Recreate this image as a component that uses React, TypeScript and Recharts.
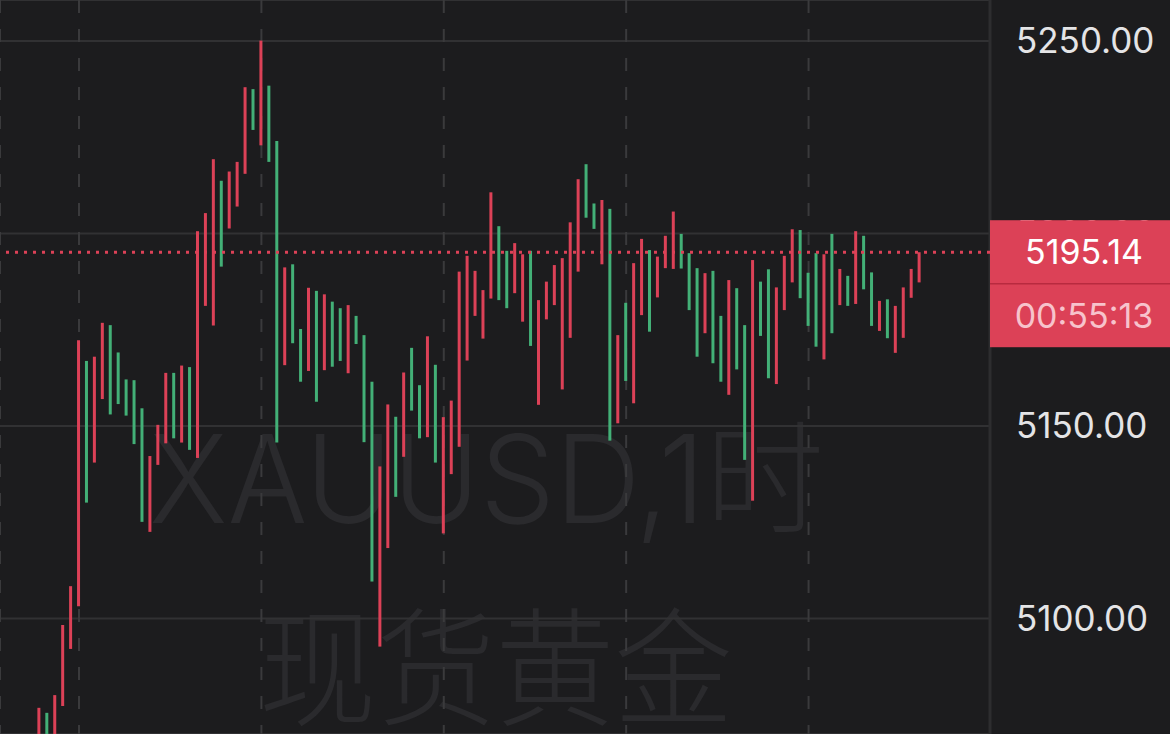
import React from 'react';
import { ComposedChart, Bar, Cell, XAxis, YAxis, CartesianGrid, ReferenceLine } from 'recharts';

// XAUUSD 1h bars, left to right (high / low)
const HIGHS = [
  5076.8, 5075.5, 5080.1, 5098.3, 5108.4, 5172.3, 5166.9, 5168.0, 5176.8, 5176.2,
  5169.1, 5162.1, 5161.9, 5154.6, 5142.2, 5150.3, 5163.8, 5163.8, 5165.7, 5165.3,
  5200.6, 5205.3, 5219.3, 5213.7, 5216.1, 5218.6, 5238.0, 5237.5, 5250.1, 5238.4,
  5224.0, 5191.2, 5192.0, 5175.2, 5185.9, 5185.1, 5184.2, 5182.3, 5180.6, 5181.4,
  5178.6, 5173.6, 5161.5, 5139.5, 5155.6, 5152.4, 5163.9, 5170.3, 5160.6, 5173.3,
  5165.9, 5152.3, 5156.6, 5190.1, 5194.2, 5190.3, 5185.3, 5210.7, 5201.9, 5195.5,
  5197.5, 5194.6, 5195.5, 5182.7, 5187.5, 5191.8, 5193.6, 5202.9, 5214.1, 5218.0,
  5207.8, 5208.7, 5206.4, 5173.6, 5182.0, 5192.3, 5198.6, 5195.7, 5194.0, 5199.4,
  5205.7, 5199.9, 5194.9, 5191.0, 5189.7, 5190.3, 5178.6, 5187.9, 5185.8, 5176.2,
  5193.1, 5187.5, 5190.7, 5186.0, 5194.2, 5201.1, 5200.9, 5189.8, 5194.9, 5194.6,
  5199.9, 5190.8, 5189.0, 5200.6, 5199.4, 5189.9, 5182.5, 5182.9, 5181.2, 5186.0,
  5190.8, 5195.14,
];

const LOWS = [
  5055.0, 5055.0, 5060.0, 5077.3, 5092.1, 5103.2, 5130.1, 5140.5, 5157.0, 5153.0,
  5155.7, 5152.7, 5145.3, 5125.1, 5122.5, 5139.9, 5145.5, 5146.8, 5145.7, 5143.8,
  5141.7, 5181.2, 5176.1, 5191.4, 5201.3, 5207.0, 5215.5, 5226.9, 5222.9, 5218.6,
  5145.7, 5165.8, 5171.5, 5161.5, 5164.3, 5156.3, 5164.5, 5165.4, 5166.9, 5163.7,
  5171.3, 5145.8, 5109.6, 5092.7, 5118.3, 5131.6, 5142.0, 5154.0, 5146.8, 5147.1,
  5140.5, 5122.1, 5137.5, 5144.6, 5167.0, 5178.6, 5172.7, 5183.1, 5182.7, 5180.6,
  5184.5, 5177.1, 5170.8, 5155.5, 5177.7, 5181.4, 5159.5, 5172.9, 5190.1, 5204.1,
  5201.2, 5192.0, 5146.2, 5150.7, 5161.7, 5155.9, 5178.8, 5174.5, 5183.4, 5191.0,
  5190.8, 5190.9, 5180.1, 5168.0, 5174.1, 5166.3, 5161.5, 5158.1, 5164.7, 5141.2,
  5130.6, 5173.4, 5162.4, 5160.9, 5180.1, 5187.3, 5183.2, 5176.0, 5170.6, 5167.3,
  5174.1, 5181.4, 5181.2, 5181.7, 5185.5, 5176.0, 5174.7, 5172.8, 5169.0, 5172.9,
  5183.3, 5187.3,
];

// r = rising (red), g = falling (green)
const SIDES = (
  'rgrrrrgrrg' + 'ggggrrrgrg' + 'rrrgrrrgrg' + 'grggrgrggr' + 'gggrrgrggr' +
  'grrrrrrrgg' + 'rrgrrrrrrg' + 'grgrgrrgrr' + 'rgggrggrgg' + 'rggrrrgggr' +
  'grgrggrgrrrr'
).split('');

const PRICE_TICKS = [5100, 5150, 5200, 5250];
const SESSION_TICKS = [5, 28, 51, 74, 97]; // bars sitting on the dashed separators
const LAST_PRICE = 5195.14;
const COUNTDOWN = '00:55:13';
const SYMBOL = 'XAUUSD,1时';
const NAME = '现货黄金';

const BG = '#1c1c1e';
const UP = '#dc4157';
const DOWN = '#43b077';
const FONT = 'Inter, "Liberation Sans", "Noto Sans CJK SC", sans-serif';
const X_DOMAIN = [-4.962, 119.88];
const Y_DOMAIN = [5070, 5260.65];

const data = HIGHS.map((h, i) => ({ idx: i, range: [LOWS[i], h], side: SIDES[i] }));

function PriceTag(props: any) {
  const { viewBox } = props;
  if (!viewBox) return null;
  const left = viewBox.x + viewBox.width;
  const y = viewBox.y;
  return (
    <g>
      <rect x={left} y={y - 32} width={180} height={127} fill={UP} />
      <line x1={left} x2={left + 180} y1={y + 31.5} y2={y + 31.5} stroke="#b82a3f" strokeWidth={1.5} />
      <text x={left + 94} y={y} dy="0.355em" textAnchor="middle" fill="#ffffff" fontSize={34} fontFamily={FONT}>
        {LAST_PRICE.toFixed(2)}
      </text>
      <text x={left + 94} y={y + 64} dy="0.355em" textAnchor="middle" fill="#f7c3cc" fontSize={34} fontFamily={FONT}>
        {COUNTDOWN}
      </text>
    </g>
  );
}

export default function App() {
  const layer: React.CSSProperties = { position: 'absolute', left: 0, top: 0 };
  return (
    <div style={{ position: 'relative', width: 1170, height: 734, background: BG, overflow: 'hidden' }}>
      <style>{'body{margin:0;background:#1c1c1e}'}</style>
      <svg width={990} height={734} style={layer}>
        <text x={149} y={523} fontSize={122} fill="#2a2a2d" fontFamily={FONT} fontWeight={300}
          textLength={675} lengthAdjust="spacingAndGlyphs">{SYMBOL}</text>
        <text x={258} y={716} fontSize={128} fill="#2a2a2d" fontFamily='"Noto Sans CJK SC", sans-serif' fontWeight={300}
          textLength={475} lengthAdjust="spacingAndGlyphs">{NAME}</text>
      </svg>
      <div style={layer}>
        <ComposedChart width={1170} height={734} data={data} margin={{ top: 0, right: 0, bottom: 0, left: 0 }}>
          <CartesianGrid vertical={false} stroke="#313133" strokeWidth={2} />
          <CartesianGrid horizontal={false} stroke="#3a3a3c" strokeWidth={2} strokeDasharray="13 16" />
          <XAxis type="number" dataKey="idx" domain={X_DOMAIN} ticks={SESSION_TICKS}
            allowDataOverflow hide />
          <YAxis orientation="right" width={180} domain={Y_DOMAIN} ticks={PRICE_TICKS}
            allowDataOverflow tickLine={false} tickMargin={20}
            axisLine={{ stroke: '#2d2d2f', strokeWidth: 3 }}
            tickFormatter={(v: number) => v.toFixed(2)}
            tick={{ fill: '#e4e4e6', fontSize: 35, fontFamily: FONT, textAnchor: 'start' }} />
          <Bar dataKey="range" barSize={3} isAnimationActive={false}>
            {data.map((d, i) => (
              <Cell key={i} fill={d.side === 'r' ? UP : DOWN} />
            ))}
          </Bar>
        </ComposedChart>
      </div>
      {/* last-price line and tag sit above the axis labels */}
      <div style={layer}>
        <ComposedChart width={1170} height={734} data={data} margin={{ top: 0, right: 0, bottom: 0, left: 0 }}>
          <XAxis type="number" dataKey="idx" domain={X_DOMAIN} allowDataOverflow hide />
          <YAxis orientation="right" width={180} domain={Y_DOMAIN} allowDataOverflow
            tick={false} tickLine={false} axisLine={false} />
          <ReferenceLine y={LAST_PRICE} stroke={UP} strokeWidth={3} strokeDasharray="3 6"
            label={<PriceTag />} />
        </ComposedChart>
      </div>
    </div>
  );
}
